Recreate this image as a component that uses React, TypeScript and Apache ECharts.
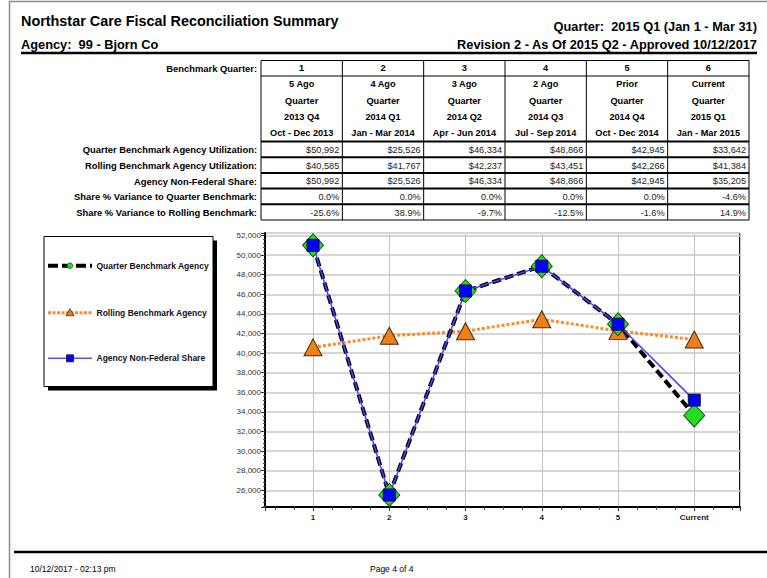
import React, { useEffect, useRef } from 'react';
import * as echarts from 'echarts';

// ---------- DATA ----------
const categories = ['1', '2', '3', '4', '5', 'Current'];
const seriesNames = ['Quarter Benchmark Agency', 'Rolling Benchmark Agency', 'Agency Non-Federal Share'];
const quarterBenchmark = [50992, 25526, 46334, 48866, 42945, 33642];
const rollingBenchmark = [40585, 41767, 42237, 43451, 42266, 41384];
const agencyShare = [50992, 25526, 46334, 48866, 42945, 35205];
const varianceQuarter = ['0.0%', '0.0%', '0.0%', '0.0%', '0.0%', '-4.6%'];
const varianceRolling = ['-25.6%', '38.9%', '-9.7%', '-12.5%', '-1.6%', '14.9%'];

const headerNumbers = ['1', '2', '3', '4', '5', '6'];
const headerAgo = ['5 Ago', '4 Ago', '3 Ago', '2 Ago', 'Prior', 'Current'];
const headerWord = ['Quarter', 'Quarter', 'Quarter', 'Quarter', 'Quarter', 'Quarter'];
const headerQuarter = ['2013 Q4', '2014 Q1', '2014 Q2', '2014 Q3', '2014 Q4', '2015 Q1'];
const headerRange = ['Oct - Dec 2013', 'Jan - Mar 2014', 'Apr - Jun 2014', 'Jul - Sep 2014', 'Oct - Dec 2014', 'Jan - Mar 2015'];
const rowLabels = [
  'Quarter Benchmark Agency Utilization:',
  'Rolling Benchmark Agency Utilization:',
  'Agency Non-Federal Share:',
  'Share % Variance to Quarter Benchmark:',
  'Share % Variance to Rolling Benchmark:',
];

const titleText = 'Northstar Care Fiscal Reconciliation Summary';
const quarterText = 'Quarter:  2015 Q1 (Jan 1 - Mar 31)';
const agencyText = 'Agency:  99 - Bjorn Co';
const revisionText = 'Revision 2 - As Of 2015 Q2 - Approved 10/12/2017';
const footerDate = '10/12/2017 - 02:13 pm';
const footerPage = 'Page 4 of 4';

// ---------- LAYOUT ----------
const FONT = '"Liberation Sans", Arial, sans-serif';
const W = 767;
const H = 578;

const fmtMoney = (v: number) => '$' + v.toLocaleString('en-US');

function txt(x: number, y: number, text: string, opts: any = {}) {
  return {
    type: 'text',
    x,
    y,
    silent: true,
    style: {
      text,
      fontFamily: FONT,
      fontSize: opts.size || 9,
      fontWeight: opts.bold ? 'bold' : 'normal',
      fill: opts.color || '#000',
      align: opts.align || 'left',
      verticalAlign: 'middle',
    },
  };
}

function ln(x1: number, y1: number, x2: number, y2: number, stroke = '#000', lineWidth = 1, lineDash?: number[]) {
  return {
    type: 'line',
    silent: true,
    shape: { x1, y1, x2, y2 },
    style: { stroke, lineWidth, lineDash },
  };
}

function buildGraphics() {
  const g: any[] = [];
  // page border
  g.push(ln(9.5, 1, 9.5, H, '#8a8a8a', 1.5));
  g.push(ln(9.5, 1.5, W, 1.5, '#8a8a8a', 1.5));
  // header
  g.push(txt(21, 21, titleText, { size: 14.4, bold: true }));
  g.push(txt(757, 26, quarterText, { size: 12.8, bold: true, align: 'right' }));
  g.push(txt(21, 44, agencyText, { size: 12.8, bold: true }));
  g.push(txt(757, 44, revisionText, { size: 12.8, bold: true, align: 'right' }));
  g.push(ln(21, 53, 757, 53, '#000', 2.5));

  // table
  const tLeft = 261;
  const tRight = 749;
  const nCol = categories.length;
  const colW = (tRight - tLeft) / nCol;
  const colEdges = Array.from({ length: nCol + 1 }, (_, i) => tLeft + i * colW);
  const tTop = 60.5;
  const h1Bottom = 76;
  const h2Bottom = 141.5;
  const tBottom = 220;
  const rowH = (tBottom - h2Bottom) / rowLabels.length;
  const rowEdges = Array.from({ length: rowLabels.length + 1 }, (_, i) => h2Bottom + i * rowH);

  g.push({ type: 'rect', silent: true, shape: { x: tLeft, y: tTop, width: tRight - tLeft, height: tBottom - tTop }, style: { fill: '#fff' } });
  g.push(ln(tLeft, tTop, tRight, tTop, '#000', 1));
  g.push(ln(tLeft, h1Bottom, tRight, h1Bottom, '#000', 1));
  rowEdges.forEach((y, i) => {
    g.push(ln(tLeft, y, tRight, y, '#000', i === rowEdges.length - 1 ? 1.2 : 2));
  });
  colEdges.forEach((x) => g.push(ln(x, tTop, x, tBottom, '#000', 1)));

  g.push(txt(257, 68, 'Benchmark Quarter:', { size: 9.4, bold: true, align: 'right' }));
  const hdrRows = [headerAgo, headerWord, headerQuarter, headerRange];
  const hdrY = [84, 100.5, 117, 133];
  for (let c = 0; c < nCol; c++) {
    const cx = colEdges[c] + colW / 2;
    g.push(txt(cx, 68, headerNumbers[c], { size: 9.2, bold: true, align: 'center' }));
    hdrRows.forEach((arr, r) => g.push(txt(cx, hdrY[r], arr[c], { size: 9.2, bold: true, align: 'center' })));
  }
  const rowValues = [
    quarterBenchmark.map(fmtMoney),
    rollingBenchmark.map(fmtMoney),
    agencyShare.map(fmtMoney),
    varianceQuarter,
    varianceRolling,
  ];
  rowLabels.forEach((label, r) => {
    const cy = (rowEdges[r] + rowEdges[r + 1]) / 2 + 0.5;
    g.push(txt(257, cy, label, { size: 9.4, bold: true, align: 'right' }));
    rowValues[r].forEach((v, c) => {
      g.push(txt(colEdges[c + 1] - 3, cy, v, { size: 9.2, align: 'right', color: '#222' }));
    });
  });

  // legend box
  const lx = 44, ly = 236.5, lw = 169, lh = 150;
  g.push({ type: 'rect', silent: true, shape: { x: lx + 4, y: ly + 4, width: lw, height: lh }, style: { fill: '#000' } });
  g.push({ type: 'rect', silent: true, shape: { x: lx, y: ly, width: lw, height: lh }, style: { fill: '#fff', stroke: '#000', lineWidth: 1 } });
  const legY = [265.7, 312.7, 358.3];
  const sx1 = 48, sx2 = 92, smid = 70;
  // quarter
  g.push(ln(sx1, legY[0], sx2, legY[0], '#000', 4, [10, 4]));
  g.push({ type: 'circle', silent: true, shape: { cx: smid, cy: legY[0], r: 2.8 }, style: { fill: '#22dd22', stroke: '#225522', lineWidth: 0.8 } });
  // rolling
  g.push(ln(sx1, legY[1], sx2, legY[1], '#ff8a26', 3, [3, 1.5]));
  g.push({ type: 'polygon', silent: true, shape: { points: [[smid, legY[1] - 4], [smid + 4, legY[1] + 3], [smid - 4, legY[1] + 3]] }, style: { fill: '#f07f1a', stroke: '#4a2a0a', lineWidth: 0.8 } });
  // agency
  g.push(ln(sx1, legY[2], sx2, legY[2], '#5555ff', 1.5));
  g.push({ type: 'rect', silent: true, shape: { x: smid - 3.5, y: legY[2] - 3.5, width: 7, height: 7 }, style: { fill: '#0000ff', stroke: '#111133', lineWidth: 0.8 } });
  seriesNames.forEach((n, i) => g.push(txt(96.5, legY[i], n, { size: 8.5, bold: true, color: '#101020' })));

  // plot right border
  g.push(ln(740, 233, 740, 507, '#000', 2));

  // footer
  g.push(ln(14, 552, W, 552, '#000', 2.5));
  g.push(txt(30, 568.5, footerDate, { size: 8.5 }));
  g.push(txt(370, 568.5, footerPage, { size: 8.5 }));
  return g;
}

export default function App() {
  const ref = useRef<HTMLDivElement>(null);
  useEffect(() => {
    if (!ref.current) return;
    const chart = echarts.init(ref.current, undefined, { renderer: 'svg', width: W, height: H });
    const toPts = (arr: number[]) => arr.map((v, i) => [i + 1, v]);
    const option: any = {
      animation: false,
      backgroundColor: '#fff',
      textStyle: { fontFamily: FONT },
      grid: { left: 265, right: W - 740, top: 233, bottom: H - 507, containLabel: false, outerBoundsMode: 'none' },
      xAxis: {
        type: 'value',
        min: 0.37,
        max: 6.6,
        minInterval: 1,
        maxInterval: 1,
        axisLine: { show: true, lineStyle: { color: '#000', width: 2 } },
        axisTick: { show: true, length: 4, lineStyle: { color: '#333' } },
        minorTick: { show: true, splitNumber: 4, length: 3, lineStyle: { color: '#555' } },
        splitLine: { show: true, lineStyle: { color: '#c8c8c8', width: 1.2 } },
        axisLabel: {
          margin: 6,
          fontSize: 8,
          fontWeight: 'bold',
          color: '#1a1a33',
          fontFamily: FONT,
          showMinLabel: false,
          showMaxLabel: false,
          formatter: (v: number) => (Number.isInteger(v) && v >= 1 && v <= categories.length ? categories[v - 1] : ''),
        },
      },
      yAxis: {
        type: 'value',
        min: 24300,
        max: 52250,
        minInterval: 2000,
        maxInterval: 2000,
        axisLine: { show: true, lineStyle: { color: '#000', width: 2 } },
        axisTick: { show: true, length: 4, lineStyle: { color: '#333' } },
        minorTick: { show: true, splitNumber: 5, length: 2, lineStyle: { color: '#555' } },
        splitLine: { show: true, lineStyle: { color: '#c8c8c8', width: 1.5 } },
        axisLabel: {
          margin: 4,
          fontSize: 8,
          color: '#333',
          fontFamily: FONT,
          showMinLabel: false,
          showMaxLabel: false,
          formatter: (v: number) => (v % 2000 === 0 ? v.toLocaleString('en-US') : ''),
        },
      },
      graphic: buildGraphics(),
      series: [
        {
          name: seriesNames[1],
          type: 'line',
          data: toPts(rollingBenchmark),
          symbol: 'triangle',
          symbolSize: [18, 17],
          lineStyle: { color: '#ff8a26', width: 3, type: [3, 2] },
          itemStyle: { color: '#f07f1a', borderColor: '#4a2a0a', borderWidth: 1 },
          silent: true,
        },
        {
          name: seriesNames[0],
          type: 'line',
          data: toPts(quarterBenchmark),
          symbol: 'diamond',
          symbolSize: [21, 23],
          lineStyle: { color: '#000', width: 4, type: [9, 4] },
          itemStyle: { color: '#22dd22', borderColor: '#1f4f1f', borderWidth: 1 },
          silent: true,
        },
        {
          name: seriesNames[2],
          type: 'line',
          data: toPts(agencyShare),
          symbol: 'rect',
          symbolSize: 12,
          lineStyle: { color: '#4444ff', width: 1.5 },
          itemStyle: { color: '#0000ff', borderColor: '#111133', borderWidth: 1 },
          silent: true,
        },
      ],
    };
    chart.setOption(option);
    return () => chart.dispose();
  }, []);
  return <div ref={ref} style={{ position: 'fixed', left: 0, top: 0, width: W, height: H }} />;
}
